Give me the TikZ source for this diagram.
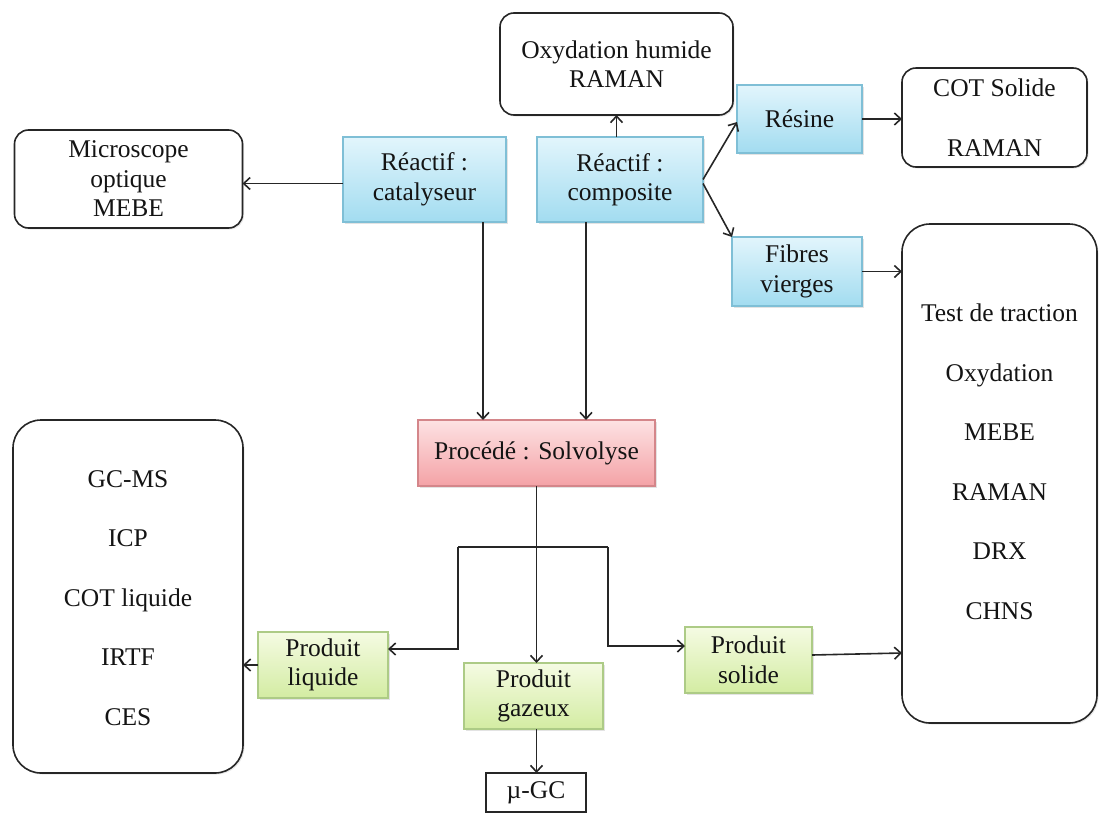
\documentclass[tikz,border=0pt]{standalone}
\usepackage{fontspec}
\setmainfont{Liberation Serif}
\usetikzlibrary{arrows.meta,shadows,calc}
\definecolor{txt}{HTML}{141414}
\definecolor{ln}{HTML}{262626}
\definecolor{bluetop}{HTML}{E2F5FC}
\definecolor{bluebot}{HTML}{A2DCF0}
\definecolor{blueln}{HTML}{7FBFD6}
\definecolor{redtop}{HTML}{FDE2E3}
\definecolor{redbot}{HTML}{F4A2A6}
\definecolor{redln}{HTML}{D4868A}
\definecolor{grntop}{HTML}{F5FBE3}
\definecolor{grnbot}{HTML}{D3ECA2}
\definecolor{grnln}{HTML}{ADCB86}
\tikzset{
  base/.style={inner sep=0pt, outer sep=0pt, align=center, text=txt,
    font=\fontsize{25.5}{29.5}\selectfont},
  rbox/.style={base, draw=ln, line width=1.6pt, rounded corners=14pt, fill=white,
    drop shadow={opacity=0.18, shadow xshift=1.5pt, shadow yshift=-1.5pt}},
  bigbox/.style={rbox, rounded corners=28pt},
  cbox/.style={base, line width=1.1pt,
    drop shadow={opacity=0.22, shadow xshift=1.5pt, shadow yshift=-1.5pt}},
  bluebox/.style={cbox, draw=blueln, top color=bluetop, bottom color=bluebot},
  redbox/.style={cbox, draw=redln, top color=redtop, bottom color=redbot},
  grnbox/.style={cbox, draw=grnln, top color=grntop, bottom color=grnbot},
  plainbox/.style={base, draw=ln, line width=1.6pt, fill=white},
  arr/.style={draw=ln, line width=1.6pt, -{Straight Barb[length=6.5pt,width=12pt]}},
  ln/.style={draw=ln, line width=1.6pt}
}
\begin{document}
\begin{tikzpicture}[x=1pt,y=1pt]
\useasboundingbox (0,0) rectangle (1099,-814);
% rounded white boxes
\node[rbox, minimum width=233, minimum height=102] (ox) at (616.5,-64) {Oxydation humide\\RAMAN};
\node[rbox, minimum width=228, minimum height=98] (micro) at (128.5,-179) {Microscope\\optique\\MEBE};
\node[rbox, minimum width=185, minimum height=99] (cot) at (994.5,-117.5) {COT Solide\\[31pt]RAMAN};
\node[bigbox, minimum width=195, minimum height=499] (R) at (999.5,-473.5) {};
\node[base] (Rt) at (999.5,-462) {Test de traction\\[30pt]Oxydation\\[30pt]MEBE\\[30pt]RAMAN\\[30pt]DRX\\[30pt]CHNS};
\node[bigbox, minimum width=230, minimum height=353] (L) at (128,-596.5) {};
\node[base] (Lt) at (128,-598) {GC-MS\\[30pt]ICP\\[30pt]COT liquide\\[30pt]IRTF\\[30pt]CES};
% coloured boxes
\node[bluebox, minimum width=163, minimum height=85] (cat) at (424.5,-179.5) {Réactif :\\catalyseur};
\node[bluebox, minimum width=166, minimum height=85] (comp) at (620,-179.5) {Réactif :\\composite};
\node[bluebox, minimum width=125, minimum height=68] (res) at (799.5,-119) {Résine};
\node[bluebox, minimum width=130, minimum height=69] (fib) at (797,-271.5) {Fibres\\vierges};
\node[redbox, minimum width=237, minimum height=66] (proc) at (536.5,-453) {Procédé : Solvolyse};
\node[grnbox, minimum width=130, minimum height=66] (liq) at (323,-665) {Produit\\liquide};
\node[grnbox, minimum width=139, minimum height=66] (gaz) at (533.5,-696) {Produit\\gazeux};
\node[grnbox, minimum width=127, minimum height=66] (sol) at (748.5,-660) {Produit\\solide};
\node[plainbox, minimum width=100, minimum height=39] (mu) at (536,-792.5) {µ-GC};
% connectors
\draw[arr] ([yshift=-4pt]cat.west) -- ([yshift=-4pt]cat.west -| micro.east);
\draw[arr] (comp.north -| ox.south) -- (ox.south);
\draw[arr] (comp.east) -- ([yshift=-3pt]res.west);
\draw[arr] ([yshift=-4pt]comp.east) -- (fib.north west);
\draw[arr] (res.east) -- (res.east -| cot.west);
\draw[arr] (fib.east) -- (fib.east -| R.west);
\draw[arr] (cat.south -| 483,0) -- (proc.north -| 483,0);
\draw[arr] (comp.south -| 586,0) -- (proc.north -| 586,0);
\draw[arr] (proc.south) -- (proc.south |- gaz.north);
\draw[arr] (proc.south |- gaz.south) -- (proc.south |- mu.north);
\coordinate (bl) at (458,-547);
\coordinate (br) at (608,-547);
\draw[ln] (bl) -- (br);
\draw[arr] (bl) |- ([yshift=16pt]liq.east);
\draw[arr] (br) |- ([yshift=14pt]sol.west);
\draw[arr] (liq.west) -- (liq.west -| L.east);
\draw[arr] ([yshift=5pt]sol.east) -- ([yshift=7pt]sol.east -| R.west);
\end{tikzpicture}
\end{document}
